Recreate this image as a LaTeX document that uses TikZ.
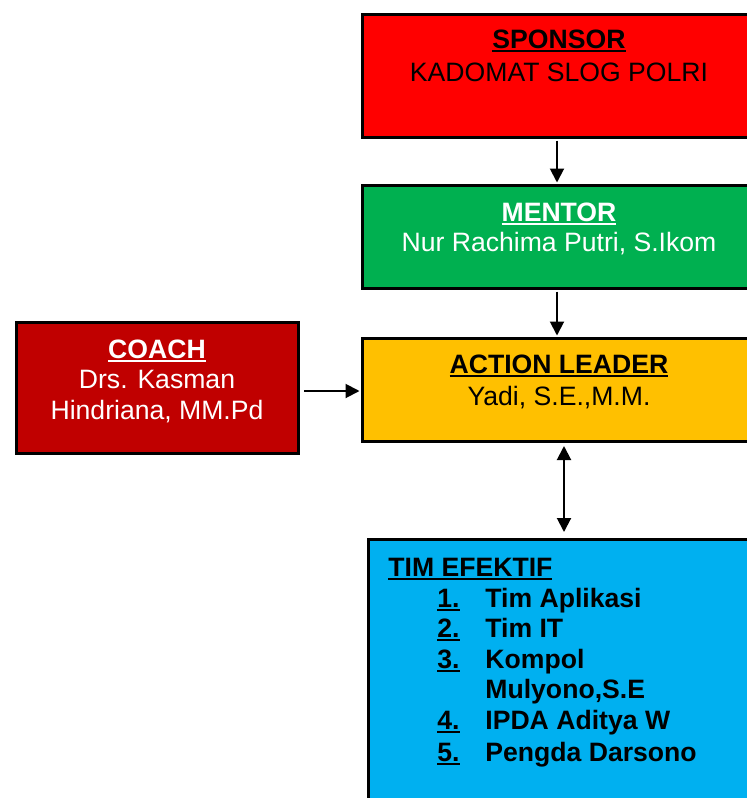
\documentclass[tikz,border=0pt]{standalone}
\usepackage{fontspec}
\setmainfont{Liberation Sans}
\usetikzlibrary{arrows.meta}
\definecolor{Sc}{HTML}{FF0000}
\definecolor{Mc}{HTML}{00B050}
\definecolor{Lc}{HTML}{FFC000}
\definecolor{Cc}{HTML}{C00000}
\definecolor{Tc}{HTML}{00B0F0}
\newcommand{\ulword}[1]{\setbox0\hbox{#1}\rlap{\rule[-2.2pt]{\wd0}{1pt}}\box0}
\tikzset{
  box/.style={rectangle, draw=black, line width=1.5pt, anchor=north west, inner sep=0pt},
  txt/.style={anchor=base, inner sep=0pt, font=\fontsize{13.3}{15.4}\selectfont},
  item/.style={txt, anchor=base west, font=\fontsize{13.3}{15.4}\selectfont\bfseries},
  link/.style={-{Triangle[length=7pt,width=7pt]}, line width=1pt},
  twolink/.style={{Triangle[length=7pt,width=7pt]}-{Triangle[length=7pt,width=7pt]}, line width=1pt},
}

\begin{document}
\begin{tikzpicture}[x=0.5pt, y=-0.5pt]
  \useasboundingbox[fill=white] (0,0) rectangle (746,798);
  % boxes
  \node[box, fill=Sc, minimum width=240pt, minimum height=61.5pt] (sponsor) at (361,13) {};
  \node[box, fill=Mc, minimum width=240pt, minimum height=51.5pt] (mentor) at (361,184) {};
  \node[box, fill=Lc, minimum width=240pt, minimum height=51.5pt] (leader) at (361,337) {};
  \node[box, fill=Cc, minimum width=141pt, minimum height=65.5pt] (coach) at (15,321) {};
  \node[box, fill=Tc, minimum width=240pt, minimum height=150pt] (team) at (367,538) {};
  \coordinate (mainaxis) at (557,0);
  \coordinate (teamaxis) at (564,0);
  % texts
  \node[txt] (sponsortitle) at (559,48) {\textbf{\ulword{SPONSOR}}};
  \node[txt] (sponsorname) at (559,81) {KADOMAT SLOG POLRI};
  \node[txt, text=white] (mentortitle) at (559,221) {\textbf{\ulword{MENTOR}}};
  \node[txt, text=white] (mentorname) at (559,251) {Nur Rachima Putri, S.Ikom};
  \node[txt] (leadertitle) at (559,373) {\textbf{\ulword{ACTION LEADER}}};
  \node[txt] (leadername) at (559,405) {Yadi, S.E.,M.M.};
  \node[txt, text=white] (coachtitle) at (157,358) {\textbf{\ulword{COACH}}};
  \node[txt, text=white] (coachname) at (157,388) {Drs. Kasman};
  \node[txt, text=white] (coachname2) at (157,419) {Hindriana, MM.Pd};
  \node[item] (teamtitle) at (388,576) {\ulword{TIM EFEKTIF}};
  \node[item] (n1) at (437,607) {\ulword{1.}};
  \node[item] (t1) at (485,607) {Tim Aplikasi};
  \node[item] (n2) at (437,637) {\ulword{2.}};
  \node[item] (t2) at (485,637) {Tim IT};
  \node[item] (n3) at (437,668) {\ulword{3.}};
  \node[item] (t3) at (485,668) {Kompol};
  \node[item] (t3b) at (485,698) {Mulyono,S.E};
  \node[item] (n4) at (437,729) {\ulword{4.}};
  \node[item] (t4) at (485,729) {IPDA Aditya W};
  \node[item] (n5) at (437,761) {\ulword{5.}};
  \node[item] (t5) at (485,761) {Pengda Darsono};
  % connectors
  \draw[link, shorten <=0.75pt, shorten >=0.75pt] (sponsor.south -| mainaxis) -- (mentor.north -| mainaxis);
  \draw[link, shorten <=0.75pt, shorten >=0.75pt] (mentor.south -| mainaxis) -- (leader.north -| mainaxis);
  \draw[link, shorten <=2pt, shorten >=0.75pt] ([yshift=-1.5pt]coach.east) -- ([yshift=-1.5pt]coach.east -| leader.west);
  \draw[twolink, shorten <=1.5pt, shorten >=3pt] (leader.south -| teamaxis) -- (team.north -| teamaxis);
\end{tikzpicture}
\end{document}
